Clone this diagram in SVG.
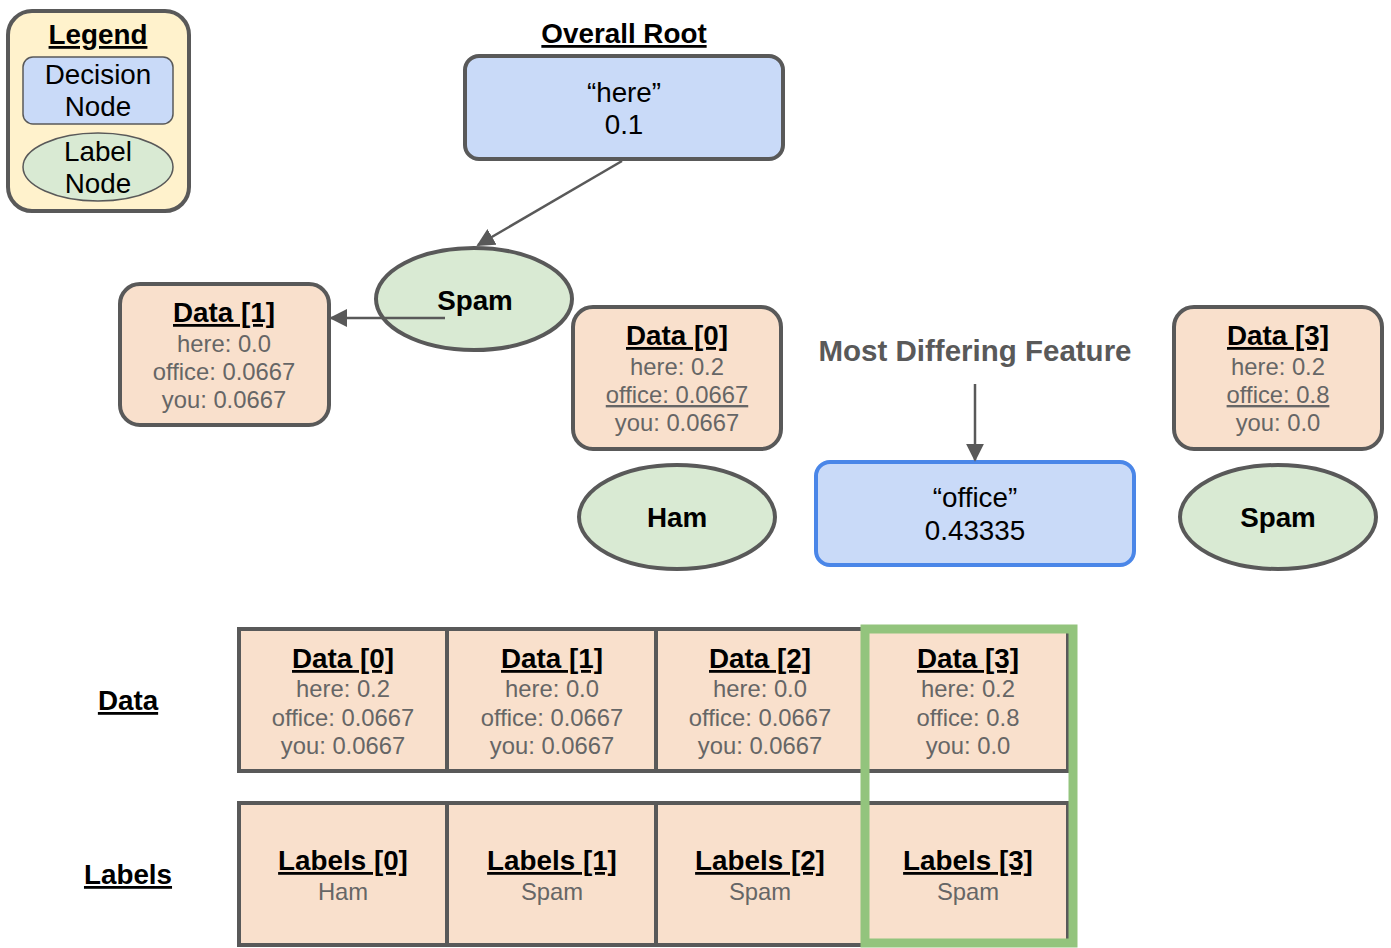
<svg xmlns="http://www.w3.org/2000/svg" width="1391" height="948" viewBox="0 0 1391 948">
<style>
text{font-family:"Liberation Sans",Arial,sans-serif;text-anchor:middle}
.t{font-size:27.8px;fill:#000}
.b{font-weight:bold}
.u{text-decoration:underline}
.g{font-size:23.8px;fill:#666666}
.dec{fill:#c9daf8;stroke:#595959;stroke-width:4}
.lab{fill:#d9ead3;stroke:#595959;stroke-width:4}
.dat{fill:#f9e0cc;stroke:#595959;stroke-width:4}
.cell{fill:#f9e0cc;stroke:#595959;stroke-width:4}
</style>
<defs>
<marker id="ah2" viewBox="0 0 10 10" refX="9" refY="5" markerWidth="18" markerHeight="18" orient="auto" markerUnits="userSpaceOnUse">
<path d="M0,0 L10,5 L0,10 z" fill="#595959"/>
</marker>
</defs>
<rect width="1391" height="948" fill="#ffffff"/>

<g id="legend">
<rect x="8" y="11" width="181" height="200" rx="24" fill="#fff2cc" stroke="#595959" stroke-width="4"/>
<text x="98" y="44" class="t b u">Legend</text>
<rect x="23" y="57" width="150" height="67" rx="10" fill="#c9daf8" stroke="#595959" stroke-width="1.5"/>
<text x="98" y="84" class="t">Decision</text>
<text x="98" y="116" class="t">Node</text>
<ellipse cx="98" cy="167" rx="75" ry="34" fill="#d9ead3" stroke="#595959" stroke-width="1.5"/>
<text x="98" y="161" class="t">Label</text>
<text x="98" y="193" class="t">Node</text>
</g>

<g id="title-root"><text x="624" y="43" class="t b u">Overall Root</text></g>

<g id="root">
<rect x="465" y="56" width="318" height="103" rx="14" class="dec"/>
<text x="624" y="102" class="t">“here”</text>
<text x="624" y="134" class="t">0.1</text>
</g>

<g id="spam1">
<ellipse cx="474" cy="299" rx="98" ry="51" class="lab"/>
<text x="475" y="310" class="t b">Spam</text>
</g>

<g id="data1">
<rect x="120" y="284" width="209" height="141" rx="20" class="dat"/>
<text x="224" y="322" class="t b u">Data [1]</text>
<text x="224" y="352" class="g">here: 0.0</text>
<text x="224" y="380" class="g">office: 0.0667</text>
<text x="224" y="408" class="g">you: 0.0667</text>
</g>

<g id="data0">
<rect x="573" y="307" width="208" height="142" rx="20" class="dat"/>
<text x="677" y="345" class="t b u">Data [0]</text>
<text x="677" y="375" class="g">here: 0.2</text>
<text x="677" y="403" class="g u">office: 0.0667</text>
<text x="677" y="431" class="g">you: 0.0667</text>
</g>

<g id="ham">
<ellipse cx="677" cy="517" rx="98" ry="52" class="lab"/>
<text x="677" y="527" class="t b">Ham</text>
</g>

<g id="mdf"><text x="975" y="361" class="b" style="font-size:29.5px;fill:#595959">Most Differing Feature</text></g>

<g id="office">
<rect x="816" y="462" width="318" height="103" rx="14" fill="#c9daf8" stroke="#4a86e8" stroke-width="4"/>
<text x="975" y="507" class="t">“office”</text>
<text x="975" y="540" class="t">0.43335</text>
</g>

<g id="data3">
<rect x="1174" y="307" width="208" height="142" rx="20" class="dat"/>
<text x="1278" y="345" class="t b u">Data [3]</text>
<text x="1278" y="375" class="g">here: 0.2</text>
<text x="1278" y="403" class="g u">office: 0.8</text>
<text x="1278" y="431" class="g">you: 0.0</text>
</g>

<g id="spam3">
<ellipse cx="1278" cy="517" rx="98" ry="52" class="lab"/>
<text x="1278" y="527" class="t b">Spam</text>
</g>

<g id="connectors">
<line x1="622" y1="161" x2="478" y2="245" stroke="#595959" stroke-width="2.5" marker-end="url(#ah2)"/>
<line x1="445" y1="318" x2="331" y2="318" stroke="#595959" stroke-width="2.5" marker-end="url(#ah2)"/>
<line x1="975" y1="384" x2="975" y2="460" stroke="#595959" stroke-width="2.5" marker-end="url(#ah2)"/>
</g>

<g id="row-labels">
<text x="128" y="710" class="t b u">Data</text>
<text x="128" y="884" class="t b u">Labels</text>
</g>

<g id="data-row">
<rect x="239" y="629" width="208" height="142" class="cell"/>
<rect x="447" y="629" width="209" height="142" class="cell"/>
<rect x="656" y="629" width="209" height="142" class="cell"/>
<rect x="865" y="629" width="203" height="142" class="cell"/>
<text x="343" y="668" class="t b u">Data [0]</text>
<text x="343" y="697" class="g">here: 0.2</text>
<text x="343" y="726" class="g">office: 0.0667</text>
<text x="343" y="754" class="g">you: 0.0667</text>
<text x="552" y="668" class="t b u">Data [1]</text>
<text x="552" y="697" class="g">here: 0.0</text>
<text x="552" y="726" class="g">office: 0.0667</text>
<text x="552" y="754" class="g">you: 0.0667</text>
<text x="760" y="668" class="t b u">Data [2]</text>
<text x="760" y="697" class="g">here: 0.0</text>
<text x="760" y="726" class="g">office: 0.0667</text>
<text x="760" y="754" class="g">you: 0.0667</text>
<text x="968" y="668" class="t b u">Data [3]</text>
<text x="968" y="697" class="g">here: 0.2</text>
<text x="968" y="726" class="g">office: 0.8</text>
<text x="968" y="754" class="g">you: 0.0</text>
</g>

<g id="labels-row">
<rect x="239" y="803" width="208" height="142" class="cell"/>
<rect x="447" y="803" width="209" height="142" class="cell"/>
<rect x="656" y="803" width="209" height="142" class="cell"/>
<rect x="865" y="803" width="203" height="142" class="cell"/>
<text x="343" y="870" class="t b u">Labels [0]</text>
<text x="343" y="900" class="g">Ham</text>
<text x="552" y="870" class="t b u">Labels [1]</text>
<text x="552" y="900" class="g">Spam</text>
<text x="760" y="870" class="t b u">Labels [2]</text>
<text x="760" y="900" class="g">Spam</text>
<text x="968" y="870" class="t b u">Labels [3]</text>
<text x="968" y="900" class="g">Spam</text>
</g>

<g id="highlight">
<rect x="865" y="629" width="208" height="314" fill="none" stroke="#93c47d" stroke-width="9"/>
</g>
</svg>
